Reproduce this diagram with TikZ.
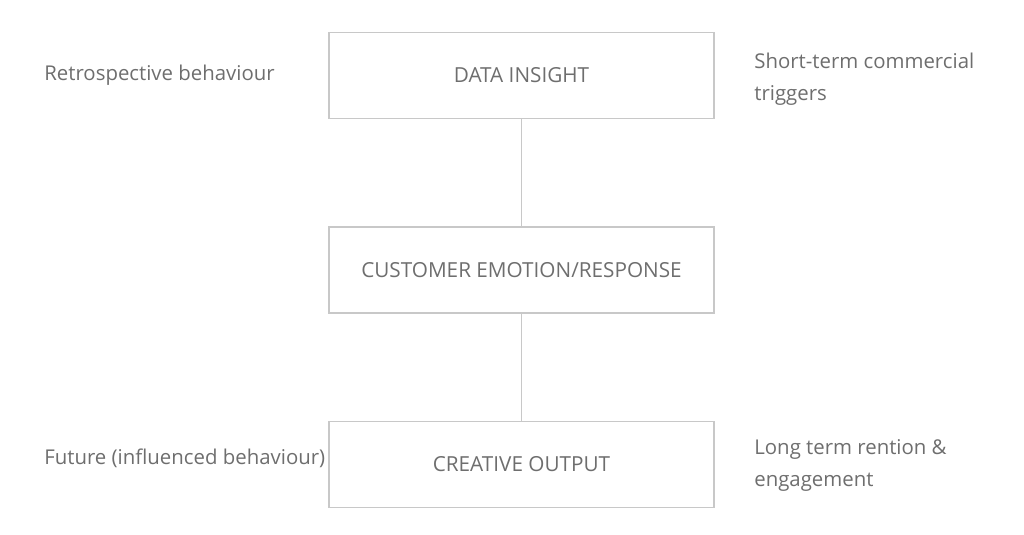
\documentclass[tikz,border=0pt]{standalone}
\usepackage{fontspec}
\setmainfont{Open Sans}
\usetikzlibrary{positioning}
\definecolor{boxline}{HTML}{C8C8C8}
\definecolor{labeltext}{HTML}{6E6E6E}

\begin{document}
\begin{tikzpicture}[
  x=0.02cm, y=-0.02cm,
  node distance=2.14cm,
  box/.style={
    rectangle, draw=boxline, line width=0.8pt, align=center,
    minimum width=7.7cm, minimum height=1.72cm, inner sep=0pt,
    text=labeltext, font=\fontsize{11.8}{14}\selectfont
  },
  side/.style={
    align=left, anchor=west, inner sep=0pt,
    text=labeltext, font=\fontsize{11.6}{18.2}\selectfont
  },
  link/.style={draw=boxline, line width=0.8pt}
]
\useasboundingbox (0,0) rectangle (1024,534);

\node (insight) [box] at (521.5,75.5) {DATA INSIGHT};
\node (emotion) [box, below=of insight] {CUSTOMER EMOTION/RESPONSE};
\node (output) [box, below=of emotion] {CREATIVE OUTPUT};

\node (retro) [side] at (44,75) {Retrospective behaviour};
\node (future) [side] at (44,458) {Future (influenced behaviour)};
\node (short) [side] at (754,79) {Short-term commercial\\triggers};
\node (long) [side] at (754,465) {Long term rention \&\\engagement};

\draw[link] (insight) -- (emotion);
\draw[link] (emotion) -- (output);
\end{tikzpicture}
\end{document}
